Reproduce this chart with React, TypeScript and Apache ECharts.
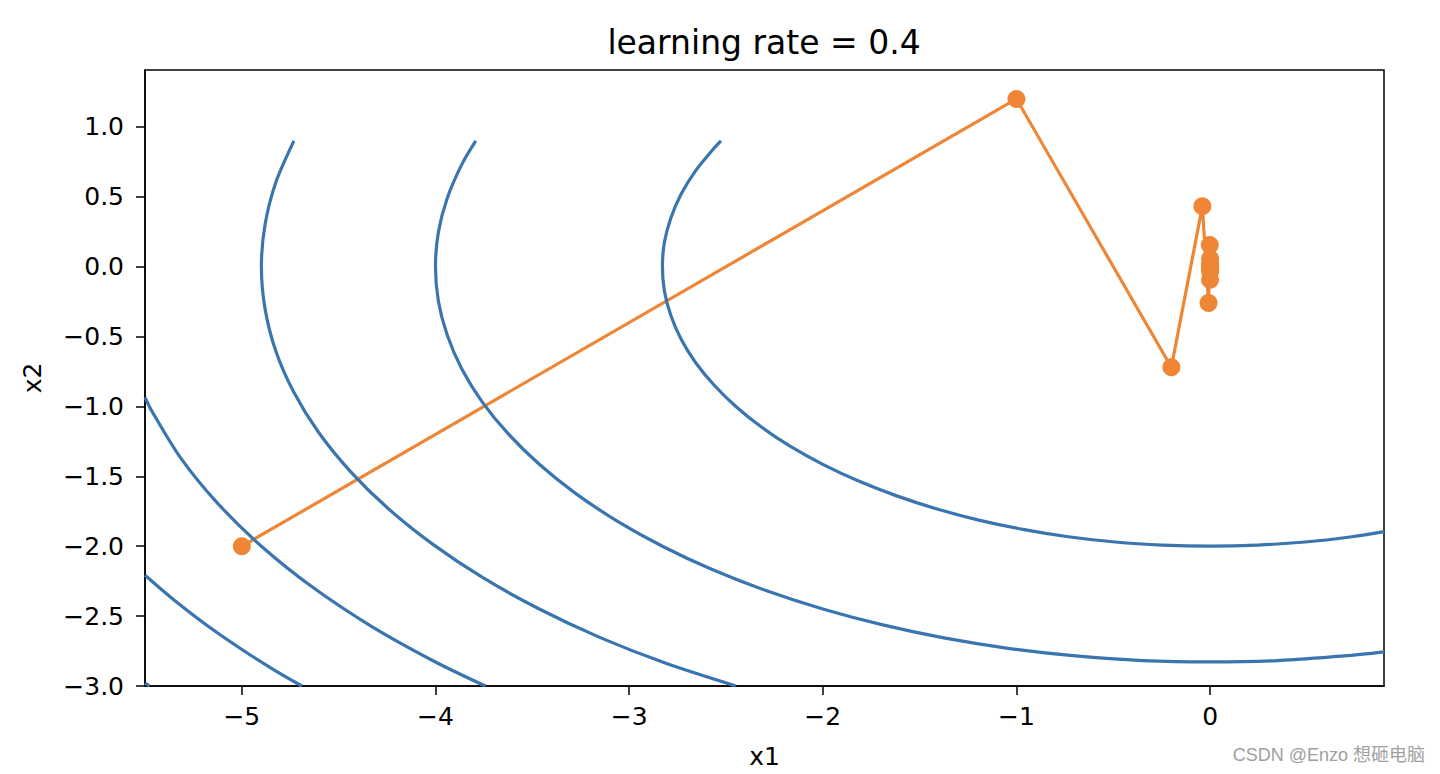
import React, { useEffect, useRef } from "react";
import * as echarts from "echarts";

// Trajectory of gradient descent (learning rate = 0.4), 20 steps
const traceX1 = [-5, -1, -0.2, -0.04, -0.008, -0.0016, -0.00032, -0.000064, -0.0000128, 0, 0, 0, 0, 0, 0, 0, 0, 0, 0, 0, 0];
const traceX2 = [-2, 1.2, -0.72, 0.432, -0.2592, 0.1555, -0.0933, 0.056, -0.0336, 0.0202, -0.0121, 0.0073, -0.0044, 0.0026, -0.0016, 0.0009, -0.0006, 0.0003, -0.0002, 0.0001, -0.0001];

// Contour curves (x1, x2)
const contour8: number[][] = [
  [-2.526, 0.9], [-2.563, 0.845], [-2.658, 0.684], [-2.732, 0.518], [-2.785, 0.347], [-2.818, 0.174],
  [-2.828, 0], [-2.818, -0.174], [-2.785, -0.347], [-2.732, -0.518], [-2.658, -0.684], [-2.563, -0.845],
  [-2.449, -1.0], [-2.317, -1.147], [-2.167, -1.286], [-2.0, -1.414], [-1.818, -1.532], [-1.622, -1.638],
  [-1.414, -1.732], [-1.195, -1.813], [-0.967, -1.879], [-0.732, -1.932], [-0.491, -1.97], [-0.247, -1.992],
  [0, -2], [0.247, -1.992], [0.491, -1.97], [0.732, -1.932], [0.9, -1.896],
];
const contour16: number[][] = [
  [-3.792, 0.9], [-3.864, 0.732], [-3.939, 0.491], [-3.985, 0.247], [-4, 0], [-3.985, -0.247],
  [-3.939, -0.491], [-3.864, -0.732], [-3.759, -0.967], [-3.625, -1.195], [-3.464, -1.414],
  [-3.277, -1.622], [-3.064, -1.818], [-2.828, -2.0], [-2.571, -2.167], [-2.294, -2.317], [-2.0, -2.449],
  [-1.69, -2.563], [-1.368, -2.658], [-1.035, -2.732], [-0.694, -2.785], [-0.349, -2.818], [0, -2.828],
  [0.349, -2.818], [0.694, -2.785], [0.9, -2.756],
];
const contour24: number[][] = [
  [-4.731, 0.9], [-4.825, 0.601], [-4.88, 0.302], [-4.899, 0], [-4.88, -0.302], [-4.825, -0.601],
  [-4.732, -0.897], [-4.604, -1.185], [-4.44, -1.464], [-4.243, -1.732], [-4.013, -1.987],
  [-3.753, -2.227], [-3.464, -2.449], [-3.149, -2.654], [-2.81, -2.838], [-2.449, -3.0],
];
const contour32: number[][] = [
  [-5.5, -0.935], [-5.464, -1.035], [-5.316, -1.368], [-5.127, -1.69], [-4.899, -2.0],
  [-4.634, -2.294], [-4.333, -2.571], [-4.0, -2.828], [-3.742, -3.0],
];
const contour40: number[][] = [
  [-5.5, -2.208], [-5.363, -2.37], [-5.181, -2.565], [-4.984, -2.753], [-4.845, -2.875], [-4.69, -3.0],
];
const contour48: number[][] = [
  [-5.5, -2.979], [-5.477, -3.0],
];

const xTicks = [-5, -4, -3, -2, -1, 0];
const yTicks = [-3, -2.5, -2, -1.5, -1, -0.5, 0, 0.5, 1];

const BLUE = "#3a75af";
const ORANGE = "#ee8636";
const FONT = "DejaVu Sans";

export default function App() {
  const ref = useRef<HTMLDivElement>(null);
  useEffect(() => {
    if (!ref.current) return;
    const chart = echarts.init(ref.current, null, { renderer: "svg" });
    const contours = [contour8, contour16, contour24, contour32, contour40, contour48];
    const trace = traceX1.map((x, i) => [x, traceX2[i]]);
    const axisLine = { show: true, onZero: false, lineStyle: { color: "#000", width: 1.5 } };
    chart.setOption({
      animation: false,
      backgroundColor: "#fff",
      grid: {
        left: 145, right: 56, top: 70, bottom: 88,
        show: true, borderColor: "#000", borderWidth: 1.5, backgroundColor: "transparent",
      },
      xAxis: {
        type: "value", min: -5.5, max: 0.898,
        name: "x1", nameLocation: "middle", nameGap: 58,
        nameTextStyle: { fontFamily: FONT, fontSize: 25, color: "#000" },
        axisLine,
        splitLine: { show: false },
        axisTick: { show: true, length: 9, lineStyle: { color: "#000", width: 1.5 }, customValues: xTicks },
        axisLabel: {
          customValues: xTicks, margin: 18,
          fontFamily: FONT, fontSize: 25, color: "#000",
          formatter: (v: number) => String(v).replace("-", "\u2212"),
        },
      },
      yAxis: {
        type: "value", min: -3, max: 1.407,
        name: "x2", nameLocation: "middle", nameGap: 100,
        nameTextStyle: { fontFamily: FONT, fontSize: 25, color: "#000" },
        axisLine,
        splitLine: { show: false },
        axisTick: { show: true, length: 9, lineStyle: { color: "#000", width: 1.5 }, customValues: yTicks },
        axisLabel: {
          customValues: yTicks, margin: 21,
          fontFamily: FONT, fontSize: 25, color: "#000",
          formatter: (v: number) => v.toFixed(1).replace("-", "\u2212"),
        },
      },
      series: [
        {
          type: "line", data: trace, symbol: "circle", symbolSize: 18, showSymbol: true,
          lineStyle: { color: ORANGE, width: 3.2 }, itemStyle: { color: ORANGE }, z: 2,
        },
        ...contours.map((c) => ({
          type: "line", data: c, smooth: 0.3, symbol: "none",
          lineStyle: { color: BLUE, width: 3.2 }, z: 3, clip: true,
        })),
      ],
      graphic: [
        {
          type: "text", x: 764, y: 26,
          style: {
            text: "learning rate = 0.4", fill: "#000", fontSize: 33, fontFamily: FONT,
            textAlign: "center", textVerticalAlign: "top",
          },
        },
        {
          type: "text", right: 15, top: 746,
          style: { text: "CSDN @Enzo 想砸电脑", fill: "#a0a0a0", fontSize: 18, fontFamily: "Liberation Sans, Noto Sans CJK SC" },
        },
      ],
    });
    return () => chart.dispose();
  }, []);
  return <div ref={ref} style={{ position: "fixed", left: 0, top: 0, width: 1440, height: 774 }} />;
}
